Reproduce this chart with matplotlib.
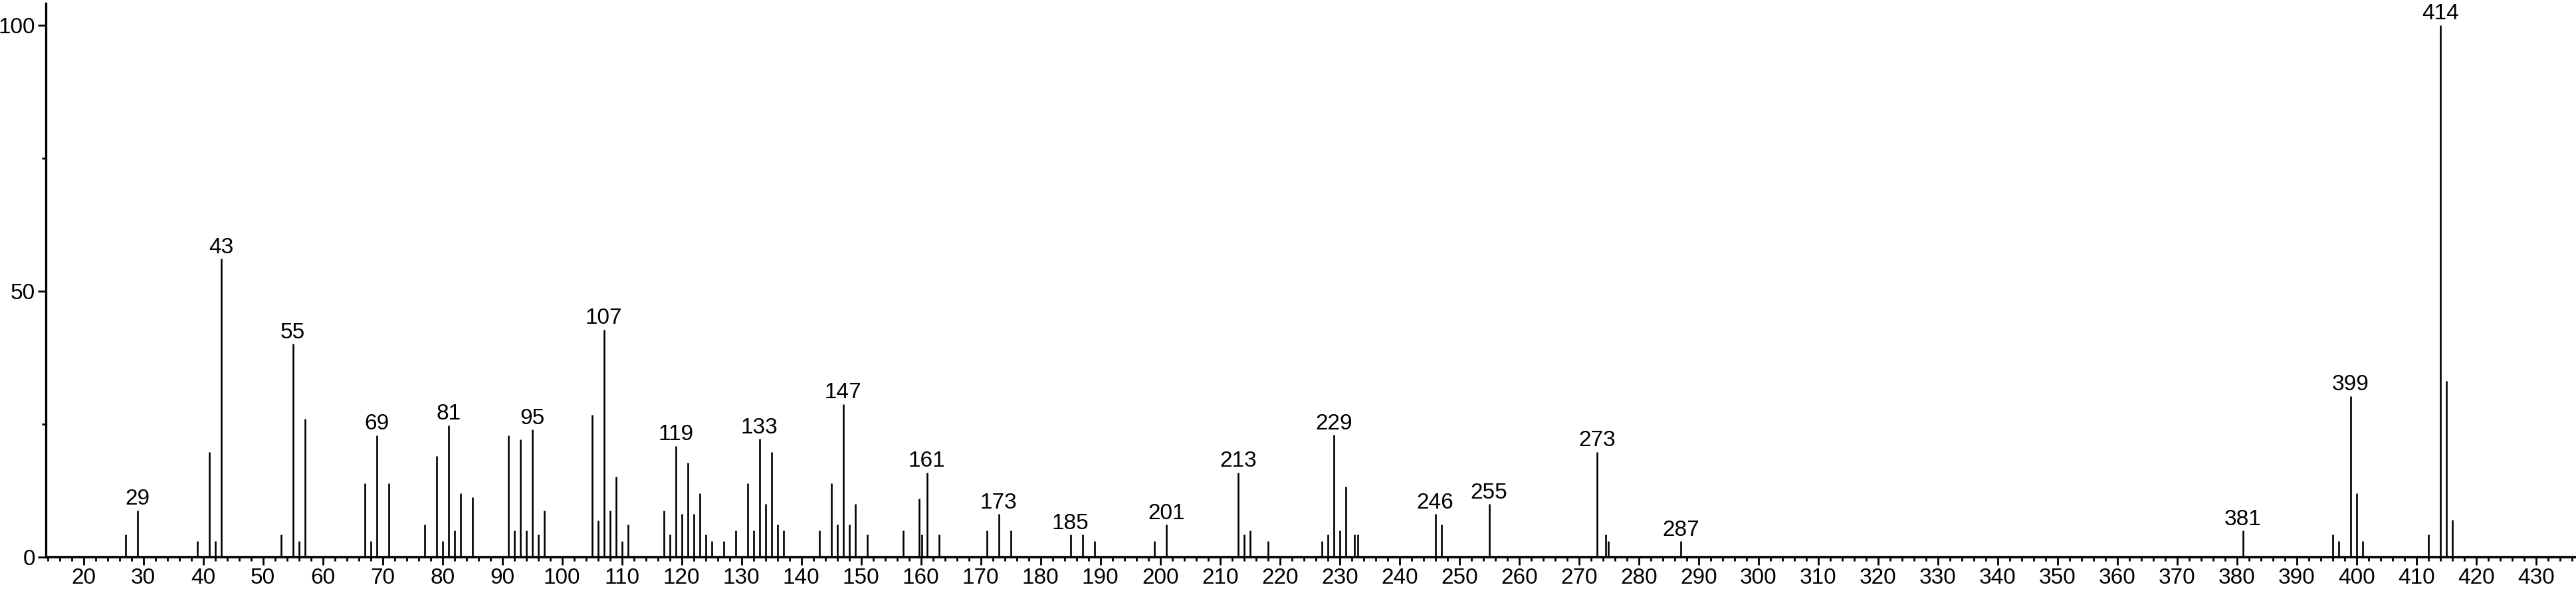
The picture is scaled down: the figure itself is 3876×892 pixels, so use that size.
import matplotlib
matplotlib.use('Agg')
import matplotlib.pyplot as plt
from matplotlib.ticker import MultipleLocator

plt.rcParams['font.family'] = ['Liberation Sans', 'DejaVu Sans']

# m/z values and relative intensities
mz = [27, 29, 39, 41, 42, 43, 53, 55, 56, 57,
      67, 68, 69, 71, 77, 79, 80, 81, 82, 83, 85,
      91, 92, 93, 94, 95, 96, 97,
      105, 106, 107, 108, 109, 110, 111,
      117, 118, 119, 120, 121, 122, 123, 124, 125, 127, 129,
      131, 132, 133, 134, 135, 136, 137,
      143, 145, 146, 147, 148, 149, 151, 157, 159.7, 160.1, 161, 163,
      171, 173, 175, 185, 187, 189, 199, 201,
      213, 214, 215, 218, 227, 228, 229, 230, 231, 232.5, 233,
      246, 247, 255, 273, 274.5, 274.9, 287,
      381, 396, 397, 399, 400, 401, 412, 414, 415, 416]
intensity = [4.2, 8.8, 3.0, 19.8, 3.0, 56.1, 4.2, 40.1, 3.0, 26.0,
             13.9, 3.0, 22.9, 13.9, 6.1, 19.0, 3.0, 24.8, 5.0, 12.0, 11.3,
             22.9, 5.0, 22.1, 5.0, 24.0, 4.2, 8.8,
             26.8, 6.9, 42.8, 8.8, 15.1, 3.0, 6.1,
             8.8, 4.2, 20.9, 8.1, 17.8, 8.1, 12.0, 4.2, 3.0, 3.0, 5.0,
             13.9, 5.0, 22.2, 10.0, 19.8, 6.1, 5.0,
             5.0, 13.9, 6.1, 28.8, 6.1, 10.0, 4.2, 5.0, 11.0, 4.2, 15.9, 4.2,
             5.0, 8.1, 5.0, 4.2, 4.2, 3.0, 3.0, 6.1,
             15.9, 4.2, 5.0, 3.0, 3.0, 4.2, 23.0, 5.0, 13.2, 4.2, 4.2,
             8.1, 6.1, 10.0, 19.8, 4.2, 3.0, 3.0,
             5.0, 4.2, 3.0, 30.3, 12.0, 3.0, 4.2, 100.0, 33.1, 7.0]

labelled = [29, 43, 55, 69, 81, 95, 107, 119, 133, 147, 161, 173, 185,
            201, 213, 229, 246, 255, 273, 287, 381, 399, 414]


def main():
    fig = plt.figure(figsize=(38.76, 8.92), dpi=100)
    ax = fig.add_axes([69 / 3876, 54 / 892, 1 - 69 / 3876, 833 / 892])

    ax.vlines(mz, 0, intensity, color='black', linewidth=1.9)

    for m, h in zip(mz, intensity):
        if m in labelled:
            ax.annotate(str(int(m)), (m, h), xytext=(0, 1), textcoords='offset points',
                        ha='center', va='bottom', fontsize=24)

    ax.set_xlim(13.7, 436.7)
    ax.set_ylim(0, 104.1)

    ax.xaxis.set_major_locator(MultipleLocator(10))
    ax.xaxis.set_minor_locator(MultipleLocator(2))
    ax.set_xticks(range(20, 431, 10))
    ax.set_yticks([0, 50, 100])
    ax.set_yticks([25, 75], minor=True)

    for s in ['top', 'right']:
        ax.spines[s].set_visible(False)
    ax.spines['left'].set_linewidth(2.4)
    ax.spines['bottom'].set_linewidth(2.6)

    ax.tick_params(which='major', direction='out', length=8.5, width=2, labelsize=24, pad=3)
    ax.tick_params(which='minor', direction='out', length=4.5, width=2)

    fig.savefig('out.png', dpi=100)


if __name__ == '__main__':
    main()
